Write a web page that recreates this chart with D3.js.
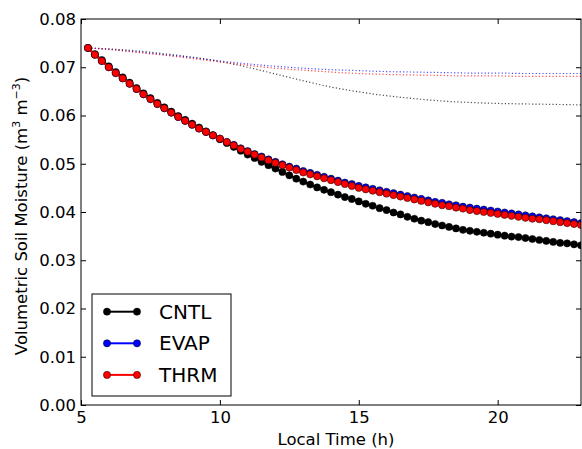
<!DOCTYPE html>
<html><head><meta charset="utf-8">
<script src="https://cdn.jsdelivr.net/npm/d3@7"></script>
<style>body{margin:0;background:#fff}svg{display:block}text{font-family:"DejaVu Sans",sans-serif}</style>
</head><body><svg id="c" width="582" height="449"></svg>
<script>
// time axis: every 15 minutes from 5:15 to 23:00
const times = d3.range(72).map(i => 5.25 + i * 0.25);

const cntl = [
.0740,.0727,.0715,.0702,.0690,.0679,.0668,.0657,.0646,.0636,.0626,.0617,.0608,.0599,.0591,.0583,.0575,.0567,.0559,.0551,
.0543,.0535,.0527,.0519,.0512,.0504,.0497,.0490,.0483,.0476,.0469,.0463,.0457,.0451,.0446,
.0441,.0436,.0431,.0427,.0422,.0417,.0413,.0408,.0404,.0399,.0395,.0390,.0386,.0382,.0379,.0375,
.0372,.0369,.0366,.0363,.0361,.0359,.0357,.0355,.0353,.0351,.0349,.0348,.0346,.0344,.0342,.0340,
.0338,.0336,.0335,.0333,.0331];
const evap = [
.0740,.0726,.0713,.0700,.0688,.0677,.0666,.0655,.0644,.0634,.0624,.0615,.0606,.0597,.0589,.0581,.0573,.0566,.0559,.0552,
.0545,.0539,.0532,.0526,.0520,.0515,.0509,.0504,.0499,.0494,.0490,.0485,.0481,.0477,.0473,
.0469,.0465,.0461,.0458,.0454,.0451,.0448,.0445,.0442,.0439,.0436,.0433,.0430,.0427,.0424,.0421,
.0419,.0416,.0414,.0411,.0409,.0407,.0405,.0403,.0401,.0399,.0397,.0395,.0393,.0391,.0389,.0387,
.0385,.0383,.0381,.0379,.0377];
const thrm = [
.0740,.0726,.0713,.0700,.0688,.0677,.0666,.0655,.0644,.0634,.0624,.0615,.0606,.0597,.0589,.0581,.0573,.0566,.0559,.0552,
.0545,.0538,.0531,.0525,.0519,.0513,.0507,.0502,.0497,.0492,.0487,.0482,.0478,.0474,.0470,
.0466,.0462,.0458,.0454,.0450,.0447,.0444,.0441,.0438,.0435,.0432,.0429,.0426,.0423,.0420,.0417,
.0414,.0412,.0409,.0407,.0404,.0402,.0400,.0398,.0396,.0394,.0392,.0390,.0388,.0386,.0385,.0383,
.0381,.0379,.0377,.0375,.0373];

// dotted reference curves (hourly)
const refTimes = [5.25,6,7,8,9,10,11,12,13,14,15,16,17,18,19,20,21,22,23];
const cntlRef = [.0740,.0738,.0734,.0728,.0721,.0712,.0700,.0686,.0672,.0659,.0649,.0641,.0635,.0630,.0627,.0625,.0624,.0623,.0622];
const evapRef = [.0740,.0737,.0732,.0726,.0720,.0713,.0707,.0702,.0698,.0695,.0693,.0691,.0690,.0689,.0688,.0688,.0687,.0687,.0687];
const thrmRef = [.0740,.0737,.0731,.0725,.0718,.0711,.0704,.0698,.0694,.0690,.0687,.0685,.0684,.0683,.0682,.0682,.0681,.0681,.0681];

const seriesNames = ["CNTL","EVAP","THRM"];
const seriesColors = ["#000000","#0000ff","#ff0000"];
const xTicks = [5,10,15,20];
const yTicks = [0,0.01,0.02,0.03,0.04,0.05,0.06,0.07,0.08];

const svg = d3.select("#c");
const L = 81, R = 581, T = 19, B = 405;
const x = d3.scaleLinear().domain([5,23]).range([L,R]);
const y = d3.scaleLinear().domain([0,0.08]).range([B,T]);

svg.append("defs").append("clipPath").attr("id","clip")
  .append("rect").attr("x",L).attr("y",T).attr("width",R-L).attr("height",B-T);
const plot = svg.append("g").attr("clip-path","url(#clip)");

// dotted
const refs = [cntlRef, evapRef, thrmRef];
const lineRef = d3.line().x((d,i)=>x(refTimes[i])).y(d=>y(d)).curve(d3.curveMonotoneX);
refs.forEach((s,k)=>{
  plot.append("path").attr("d", lineRef(s)).attr("fill","none")
    .attr("stroke", seriesColors[k]).attr("stroke-width",1.2)
    .attr("stroke-dasharray","1.2,2.2").attr("opacity",0.7);
});

// solid with markers
const sols = [cntl, evap, thrm];
const line = d3.line().x((d,i)=>x(times[i])).y(d=>y(d));
sols.forEach((s,k)=>{
  plot.append("path").attr("d", line(s)).attr("fill","none")
    .attr("stroke", seriesColors[k]).attr("stroke-width",2);
  plot.append("g").selectAll("circle").data(s).join("circle")
    .attr("cx",(d,i)=>x(times[i])).attr("cy",d=>y(d)).attr("r",3.6)
    .attr("fill",seriesColors[k]).attr("stroke","#000").attr("stroke-width",0.5);
});

// axes
const fmt = d3.format(".2f");
const ax = (g)=>{ g.selectAll(".domain").remove(); g.selectAll("line").attr("stroke","#000"); g.selectAll("text").attr("font-family","DejaVu Sans").attr("font-size",16.5).attr("fill","#000"); };
svg.append("g").attr("transform",`translate(0,${B})`)
  .call(d3.axisBottom(x).tickValues(xTicks).tickSize(-5).tickPadding(6)).call(ax);
svg.append("g").attr("transform",`translate(0,${T})`)
  .call(d3.axisTop(x).tickValues(xTicks).tickSize(-5).tickFormat("")).call(ax);
svg.append("g").attr("transform",`translate(${L},0)`)
  .call(d3.axisLeft(y).tickValues(yTicks).tickFormat(fmt).tickSize(-5).tickPadding(5)).call(ax);
svg.append("g").attr("transform",`translate(${R},0)`)
  .call(d3.axisRight(y).tickValues(yTicks).tickSize(-5).tickFormat("")).call(ax);

svg.append("rect").attr("x",L).attr("y",T).attr("width",R-L).attr("height",B-T)
  .attr("fill","none").attr("stroke","#000").attr("stroke-width",1);

// labels
svg.append("text").attr("x",336).attr("y",445).attr("text-anchor","middle")
  .attr("font-size",16.5).text("Local Time (h)");
const yl = svg.append("text").attr("transform","translate(27,216) rotate(-90)")
  .attr("text-anchor","middle").attr("font-size",16.5);
yl.append("tspan").text("Volumetric Soil Moisture (m");
yl.append("tspan").attr("font-size",11).attr("dy",-7).text("3");
yl.append("tspan").attr("dy",7).text(" m");
yl.append("tspan").attr("font-size",11).attr("dy",-7).text("\u22123");
yl.append("tspan").attr("dy",7).text(")");

// legend
const lg = svg.append("g");
lg.append("rect").attr("x",92).attr("y",294).attr("width",139).attr("height",102)
  .attr("fill","#fff").attr("stroke","#000").attr("stroke-width",1);
seriesNames.forEach((n,k)=>{
  const yy = 311.7 + k*31.6;
  lg.append("line").attr("x1",107).attr("x2",137).attr("y1",yy).attr("y2",yy)
    .attr("stroke",seriesColors[k]).attr("stroke-width",2);
  [107,137].forEach(cx=>lg.append("circle").attr("cx",cx).attr("cy",yy).attr("r",3.6)
    .attr("fill",seriesColors[k]).attr("stroke","#000").attr("stroke-width",0.5));
  lg.append("text").attr("x",159).attr("y",yy+6.8).attr("font-size",20).text(n);
});
</script></body></html>
